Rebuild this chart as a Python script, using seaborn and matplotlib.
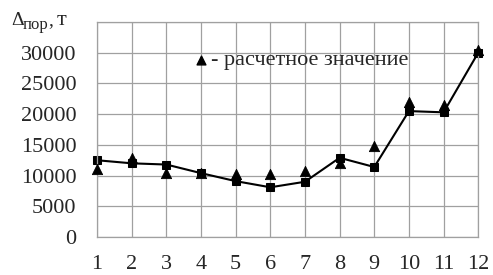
import numpy as np
import pandas as pd
import matplotlib
matplotlib.use("Agg")
import matplotlib.pyplot as plt
import seaborn as sns

# datos
meses = [1, 2, 3, 4, 5, 6, 7, 8, 9, 10, 11, 12]
real = [12500, 12000, 11800, 10400, 9100, 8100, 9000, 12900, 11400, 20500, 20300, 30000]
calculado = [11000, 12800, 10500, 10400, 10300, 10300, 10700, 12000, 14800, 22000, 21500, 30500]
y_ticks = [0, 5000, 10000, 15000, 20000, 25000, 30000, 35000]

df = pd.DataFrame({"n": meses, "real": real, "calc": calculado})

sns.set_style("white")
plt.rcParams["font.family"] = ["Liberation Serif", "DejaVu Serif"]

fig = plt.figure(figsize=(4.93, 2.75), dpi=100)
ax = fig.add_axes([0.197, 0.138, 0.773, 0.782])

sns.lineplot(data=df, x="n", y="real", ax=ax, color="black", linewidth=1.5,
             marker="s", markersize=5.5, markeredgecolor="black", clip_on=False)
sns.scatterplot(data=df, x="n", y="calc", ax=ax, color="black", marker="^",
                s=55, edgecolor="black", zorder=5, clip_on=False)

ax.set_xlim(1, 12)
ax.set_ylim(0, 35000)
ax.set_xticks(meses)
ax.set_yticks(y_ticks)
ax.set_yticklabels([str(v) if v < 35000 else "" for v in y_ticks])
ax.grid(True, color="#a0a0a0", linewidth=0.9)
for s in ax.spines.values():
    s.set_color("#a0a0a0")
    s.set_linewidth(0.9)
ax.tick_params(axis="both", length=0, labelsize=16)
ax.tick_params(axis="y", pad=15)
ax.tick_params(axis="x", pad=13)
ax.set_xlabel("")
ax.set_ylabel("")

# leyenda manual
ax.scatter([4], [28800], marker="^", s=40, color="black", zorder=5)
ax.text(4.3, 28800, "- расчетное значение", fontsize=16, va="center", ha="left")

# titulo del eje y
fig.text(11 / 493, 1 - 25 / 275, "Δ", fontsize=14, ha="left", va="baseline")
fig.text(23 / 493, 1 - 29 / 275, "пор", fontsize=12, ha="left", va="baseline")
fig.text(48 / 493, 1 - 25 / 275, ",", fontsize=14, ha="left", va="baseline")
fig.text(57 / 493, 1 - 25 / 275, "т", fontsize=16, ha="left", va="baseline")

fig.savefig("out.png", dpi=100)
